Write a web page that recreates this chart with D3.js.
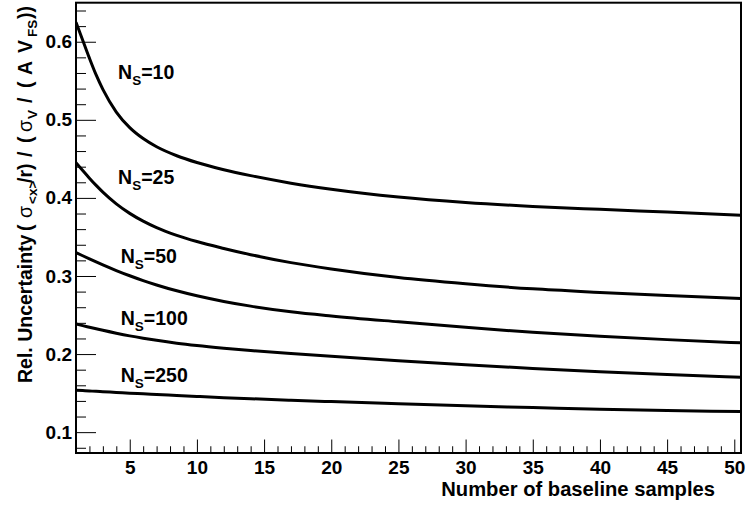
<!DOCTYPE html>
<html>
<head>
<meta charset="utf-8">
<script src="https://cdn.jsdelivr.net/npm/d3@7"></script>
<style>
  body { margin: 0; background: #fff; }
  svg { display: block; font-family: "Liberation Sans", Arial, Helvetica, sans-serif; font-weight: bold; }
  .frame { fill: none; stroke: #000; stroke-width: 2; }
  .curve { fill: none; stroke: #000; stroke-width: 3; }
  .axis .domain { display: none; }
  .axis line { stroke: #000; stroke-width: 1; }
  .axis text { font-family: "Liberation Sans", Arial, Helvetica, sans-serif; font-size: 19px; font-weight: bold; fill: #000; }
  .title { fill: #000; }
</style>
</head>
<body>
<script>
'use strict';
// 곡선 데이터
const baselineSamples = [1, 1.5, 2, 2.5, 3, 4, 5, 6, 7, 8.5, 10, 12, 14, 17, 20, 25, 30, 35, 40, 45, 50.5];
const nsValues = [10, 25, 50, 100, 250];
const uncNs10  = [0.625, 0.602, 0.579, 0.5575, 0.539, 0.510, 0.490, 0.476, 0.4655, 0.454, 0.4453, 0.4361, 0.4285, 0.4189, 0.4111, 0.4011, 0.3941, 0.3891, 0.3854, 0.3819, 0.3778];
const uncNs25  = [0.445, 0.435, 0.4253, 0.416, 0.4074, 0.3924, 0.3802, 0.3702, 0.3619, 0.352, 0.3441, 0.3353, 0.3273, 0.3171, 0.309, 0.298, 0.290, 0.2835, 0.279, 0.275, 0.2711];
const uncNs50  = [0.330, 0.3259, 0.3219, 0.318, 0.3142, 0.307, 0.3003, 0.2941, 0.2885, 0.281, 0.2746, 0.2674, 0.2614, 0.2542, 0.2488, 0.2413, 0.2343, 0.2278, 0.2228, 0.2185, 0.2144];
const uncNs100 = [0.2385, 0.2364, 0.2344, 0.2324, 0.2304, 0.2267, 0.2233, 0.2203, 0.2176, 0.214, 0.211, 0.2076, 0.2046, 0.2007, 0.1971, 0.1916, 0.1864, 0.1816, 0.1775, 0.1739, 0.1703];
const uncNs250 = [0.1537, 0.1532, 0.1527, 0.1523, 0.1518, 0.1509, 0.1499, 0.1491, 0.1482, 0.1469, 0.1457, 0.1442, 0.1428, 0.1409, 0.1391, 0.1364, 0.1337, 0.1315, 0.1293, 0.1278, 0.1263];
const seriesValues = [uncNs10, uncNs25, uncNs50, uncNs100, uncNs250];

// 라벨 위치 (데이터 좌표)
const labelX = [4.13, 4.13, 4.33, 4.33, 4.33];
const labelY = [0.5523, 0.4178, 0.3163, 0.2369, 0.1642];

// 눈금
const xTickLabels = [5, 10, 15, 20, 25, 30, 35, 40, 45, 50];
const xMinorTicks = d3.range(2, 51).filter(function(v){ return v % 5 !== 0; });
const yTickLabels = [0.1, 0.2, 0.3, 0.4, 0.5, 0.6];
const yMinorTicks = [0.08, 0.12, 0.14, 0.16, 0.18, 0.22, 0.24, 0.26, 0.28, 0.32, 0.34, 0.36, 0.38,
                     0.42, 0.44, 0.46, 0.48, 0.52, 0.54, 0.56, 0.58, 0.62, 0.64];

const width = 746, height = 509;
const frame = { left: 76, right: 741, top: 2.7, bottom: 453 };

const x = d3.scaleLinear().domain([1, 50.5]).range([frame.left, frame.right]);
const y = d3.scaleLinear().domain([0.0733, 0.65]).range([frame.bottom, frame.top]);

const svg = createSVG();
drawCurves(svg);
drawLabels(svg);
drawXAxis(svg);
drawYAxis(svg);
drawFrame(svg);
drawTitles(svg);

function createSVG(){
  return d3.select(document.body)
    .append('svg')
    .attr('width', width)
    .attr('height', height);
}

function drawCurves(object){
  object.append('defs').append('clipPath').attr('id', 'clip')
    .append('rect')
    .attr('x', frame.left).attr('y', frame.top)
    .attr('width', frame.right - frame.left)
    .attr('height', frame.bottom - frame.top);

  const line = d3.line()
    .x(function(d){ return x(d[0]); })
    .y(function(d){ return y(d[1]); })
    .curve(d3.curveMonotoneX);

  object.append('g')
    .attr('clip-path', 'url(#clip)')
    .selectAll('path')
    .data(seriesValues)
    .enter()
    .append('path')
    .attr('class', 'curve')
    .attr('d', function(vals){
      return line(baselineSamples.map(function(b, i){ return [b, vals[i]]; }));
    });
}

function drawLabels(object){
  const txt = object.append('g')
    .selectAll('text')
    .data(nsValues)
    .enter()
    .append('text')
    .attr('font-size', 19.5)
    .attr('x', function(d, i){ return x(labelX[i]); })
    .attr('y', function(d, i){ return y(labelY[i]); });
  txt.append('tspan').text('N');
  txt.append('tspan').attr('font-size', 13.5).attr('dy', 6).text('S');
  txt.append('tspan').attr('dy', -6).text(function(d){ return '=' + d; });
}

function drawXAxis(object){
  object.append('g')
    .attr('class', 'axis')
    .attr('transform', 'translate(0,' + frame.bottom + ')')
    .call(d3.axisBottom(x).tickValues(xMinorTicks).tickSize(-6.75).tickFormat(function(){ return ''; }));
  object.append('g')
    .attr('class', 'axis')
    .attr('transform', 'translate(0,' + frame.bottom + ')')
    .call(d3.axisBottom(x).tickValues(xTickLabels).tickSize(-13.5).tickPadding(8));
}

function drawYAxis(object){
  object.append('g')
    .attr('class', 'axis')
    .attr('transform', 'translate(' + frame.left + ',0)')
    .call(d3.axisLeft(y).tickValues(yMinorTicks).tickSize(-10).tickFormat(function(){ return ''; }));
  object.append('g')
    .attr('class', 'axis')
    .attr('transform', 'translate(' + frame.left + ',0)')
    .call(d3.axisLeft(y).tickValues(yTickLabels).tickSize(-20).tickPadding(4).tickFormat(d3.format('.1f')));
}

function drawFrame(object){
  object.append('rect')
    .attr('class', 'frame')
    .attr('x', frame.left)
    .attr('y', frame.top)
    .attr('width', frame.right - frame.left)
    .attr('height', frame.bottom - frame.top);
}

function drawTitles(object){
  object.append('text')
    .attr('class', 'title')
    .attr('font-size', 20.2)
    .attr('x', 715)
    .attr('y', 496)
    .attr('text-anchor', 'end')
    .text('Number of baseline samples');

  // y축 제목: 위쪽으로 읽히도록 회전, 조각마다 축을 따라 배치
  const t = object.append('text')
    .attr('class', 'title')
    .attr('transform', 'translate(32,0) rotate(-90)');
  const parts = [
    { s: 'Rel. Uncertainty', at: 383, sub: false, w: 'bold' },
    { s: '(', at: 231, sub: false, w: 'bold' },
    { s: 'σ', at: 218, sub: false, w: 'normal' },
    { s: '<x>', at: 204, sub: true, w: 'bold' },
    { s: '/r)', at: 183, sub: false, w: 'bold' },
    { s: '/', at: 157, sub: false, w: 'bold' },
    { s: '(', at: 143, sub: false, w: 'bold' },
    { s: 'σ', at: 132, sub: false, w: 'normal' },
    { s: 'V', at: 119, sub: true, w: 'bold' },
    { s: '/', at: 103, sub: false, w: 'bold' },
    { s: '(', at: 88, sub: false, w: 'bold' },
    { s: 'A', at: 75, sub: false, w: 'bold' },
    { s: 'V', at: 53, sub: false, w: 'bold' },
    { s: 'FS', at: 37, sub: true, w: 'bold' },
    { s: '))', at: 19, sub: false, w: 'bold' }
  ];
  parts.forEach(function(p){
    t.append('tspan')
      .attr('x', -p.at)
      .attr('y', p.sub ? 4.5 : 0)
      .attr('font-size', p.sub ? 13.5 : 19.5)
      .attr('font-weight', p.w)
      .text(p.s);
  });
}
</script>
</body>
</html>
